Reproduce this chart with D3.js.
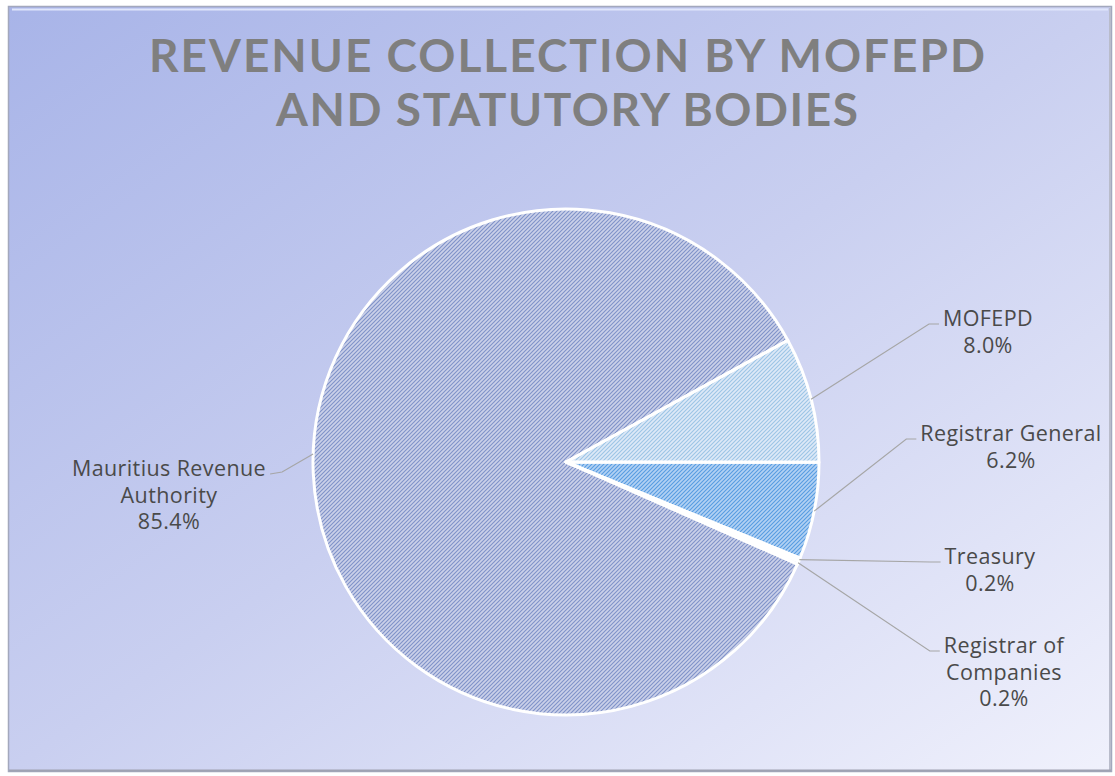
<!DOCTYPE html>
<html>
<head>
<meta charset="utf-8">
<script src="https://cdn.jsdelivr.net/npm/d3@7"></script>
<style>
  html, body { margin: 0; padding: 0; background: #ffffff; }
  svg { display: block; }
</style>
</head>
<body>
<div id="chart"></div>
<script>
// data
const categories = ["Mauritius Revenue Authority", "MOFEPD", "Registrar General", "Treasury", "Registrar of Companies"];
const shares = [85.4, 8.0, 6.2, 0.2, 0.2];
const labelLines = [["Mauritius Revenue", "Authority"], ["MOFEPD"], ["Registrar General"], ["Treasury"], ["Registrar of", "Companies"]];
const titleLines = ["REVENUE COLLECTION BY MOFEPD", "AND STATUTORY BODIES"];

// layout
const W = 1115, H = 776;
const cx = 566, cy = 462, R = 253;
const firstSliceAngle = 113.8; // degrees, clockwise from 12 o'clock
// label anchor (centre x, first baseline y) and side
const labelLayout = [
    {x: 169, y: 476, side: "left", anchorDeg: 271.8},
    {x: 988, y: 326, side: "right"},
    {x: 1011, y: 441, side: "right"},
    {x: 990, y: 564, side: "right"},
    {x: 1004, y: 653, side: "right"}
];

const svg = d3.select('#chart').append('svg').attr('width', W).attr('height', H);
const defs = svg.append('defs');

// background gradient
let bg = defs.append('linearGradient').attr('id', 'bg')
    .attr('x1', '0%').attr('y1', '0%').attr('x2', '100%').attr('y2', '100%');
bg.append('stop').attr('offset', '0%').attr('stop-color', '#a8b4e8');
bg.append('stop').attr('offset', '50%').attr('stop-color', '#c9cff0');
bg.append('stop').attr('offset', '100%').attr('stop-color', '#f0f1fc');

// stripe patterns  ("/" direction)
const patterns = [
    {id: 'p0', back: '#d8ddf2', line: '#8699cf'},
    {id: 'p1', back: '#dde9f7', line: '#9cc5e6'},
    {id: 'p2', back: '#b2d1f3', line: '#569ce2'},
    {id: 'p3', back: '#bcd3f0', line: '#3b7fcf'},
    {id: 'p4', back: '#c3cdea', line: '#5f78bd'}
];
patterns.forEach(p => {
    let pat = defs.append('pattern').attr('id', p.id)
        .attr('patternUnits', 'userSpaceOnUse').attr('width', 4).attr('height', 4);
    pat.append('rect').attr('width', 4).attr('height', 4).attr('fill', p.back);
    pat.append('path').attr('d', 'M-1,1 L1,-1 M0,4 L4,0 M3,5 L5,3')
        .attr('stroke', p.line).attr('stroke-width', 1.1);
});

// soft shading over the big slice
let shade = defs.append('radialGradient').attr('id', 'shade')
    .attr('gradientUnits', 'userSpaceOnUse')
    .attr('cx', cx - 60).attr('cy', cy + 40).attr('r', R * 1.2);
shade.append('stop').attr('offset', '0%').attr('stop-color', '#ffffff').attr('stop-opacity', 0.08);
shade.append('stop').attr('offset', '100%').attr('stop-color', '#2a3d80').attr('stop-opacity', 0.08);

// frame
svg.append('rect').attr('x', 8.5).attr('y', 6.5).attr('width', 1103).attr('height', 765)
    .attr('fill', 'url(#bg)').attr('stroke', '#a3a8bd').attr('stroke-width', 1.5);
svg.append('line').attr('x1', 12).attr('x2', 1108).attr('y1', 9.5).attr('y2', 9.5)
    .attr('stroke', '#dfe5fb').attr('stroke-width', 2);
svg.append('line').attr('x1', 1110).attr('x2', 1110).attr('y1', 8).attr('y2', 771)
    .attr('stroke', '#b9bccb').attr('stroke-width', 2);
svg.append('line').attr('x1', 9).attr('x2', 1111).attr('y1', 770.5).attr('y2', 770.5)
    .attr('stroke', '#9fa2b2').attr('stroke-width', 2);

// title
const titleWidths = [836, 582];
svg.append('g').selectAll('text').data(titleLines).enter().append('text')
    .attr('x', cx + 1)
    .attr('y', (d, i) => 72 + i * 54)
    .attr('text-anchor', 'middle')
    .attr('font-family', 'Lato, "Open Sans", sans-serif')
    .attr('font-weight', 'bold')
    .attr('font-size', '46px')
    .attr('fill', '#7f7f7f')
    .attr('textLength', (d, i) => titleWidths[i])
    .attr('lengthAdjust', 'spacing')
    .text(d => d);

// pie
const rad = Math.PI / 180;
const pie = d3.pie().sort(null).value(d => d)
    .startAngle(firstSliceAngle * rad).endAngle(firstSliceAngle * rad + 2 * Math.PI);
const arcs = pie(shares);
const arc = d3.arc().innerRadius(0).outerRadius(R);

const g = svg.append('g').attr('transform', `translate(${cx},${cy})`);
g.selectAll('path.slice').data(arcs).enter().append('path')
    .attr('class', 'slice')
    .attr('d', arc)
    .attr('fill', (d, i) => 'url(#' + patterns[i].id + ')');
g.append('path').attr('d', arc(arcs[0])).attr('fill', 'url(#shade)');
g.selectAll('path.edge').data(arcs).enter().append('path')
    .attr('class', 'edge')
    .attr('d', arc)
    .attr('fill', 'none')
    .attr('stroke', '#ffffff')
    .attr('stroke-width', 3)
    .attr('stroke-linejoin', 'round');

// labels
const fmt = d3.format('.1f');
const labels = svg.append('g');
arcs.forEach((d, i) => {
    let lay = labelLayout[i];
    let lines = labelLines[i].concat([fmt(d.data) + '%']);
    let t = labels.append('text')
        .attr('text-anchor', 'middle')
        .attr('font-family', '"Open Sans", Lato, sans-serif')
        .attr('font-size', '21.5px')
        .attr('letter-spacing', '0.4px')
        .attr('fill', '#4a4a4a');
    lines.forEach((l, k) => {
        t.append('tspan').attr('x', lay.x).attr('y', lay.y + k * 26.5).text(l);
    });

    // leader line
    let firstW = t.select('tspan').node().getComputedTextLength();
    let ang = (lay.anchorDeg !== undefined ? lay.anchorDeg : (d.startAngle + d.endAngle) / 2 / rad) * rad;
    let ax = cx + R * Math.sin(ang), ay = cy - R * Math.cos(ang);
    let ly = lay.y - 2;
    let pts;
    if (lay.side === 'right') {
        let ex = lay.x - firstW / 2 - 4;
        pts = [[ax, ay], [ex - 10, ly], [ex, ly]];
    } else {
        let ex = lay.x + firstW / 2 + 4;
        pts = [[ex, ly], [ex + 12, ly - 2], [ax, ay]];
    }
    labels.append('path')
        .attr('d', d3.line()(pts))
        .attr('fill', 'none')
        .attr('stroke', '#a6a6a6')
        .attr('stroke-width', 1.2);
});
</script>
</body>
</html>
